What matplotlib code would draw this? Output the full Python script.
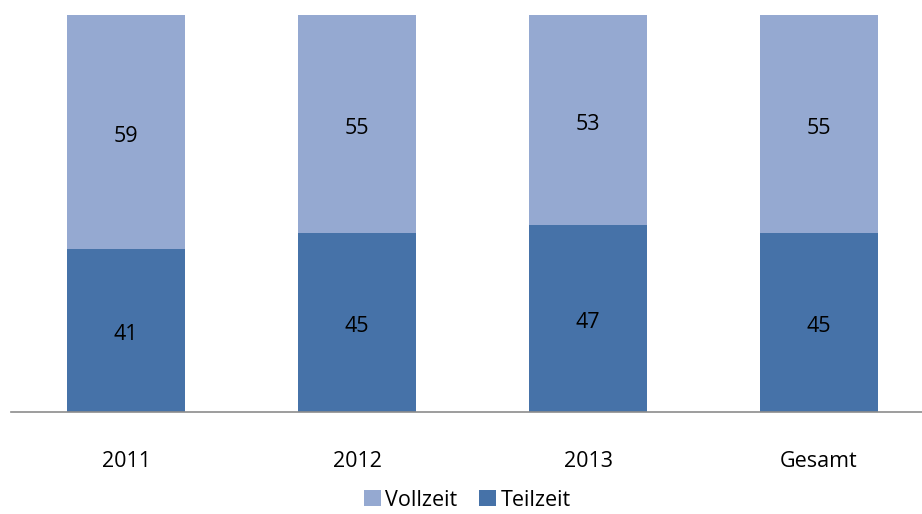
import matplotlib
matplotlib.use("Agg")
import matplotlib.pyplot as plt
import numpy as np

# Anteile in Prozent
categories = ["2011", "2012", "2013", "Gesamt"]
teilzeit = [41, 45, 47, 45]
vollzeit = [59, 55, 53, 55]

plt.rcParams["font.family"] = ["Open Sans", "DejaVu Sans"]

fig = plt.figure(figsize=(9.22, 5.14), dpi=100)
# axes runs a bit past the right edge, like the original
ax = fig.add_axes([10.5 / 922, (514 - 412) / 514, 924 / 922, 397 / 514])

x = np.arange(len(categories))
w = 0.51
c_voll = "#95A9D1"
c_teil = "#4672A8"
fs = 15.5

b1 = ax.bar(x, teilzeit, w, color=c_teil, label="Teilzeit")
b2 = ax.bar(x, vollzeit, w, bottom=teilzeit, color=c_voll, label="Vollzeit")

for i in range(len(categories)):
    ax.text(x[i], teilzeit[i] / 2 - 1, str(teilzeit[i]), ha="center", va="center", fontsize=fs)
    ax.text(x[i], teilzeit[i] + vollzeit[i] / 2 - 1, str(vollzeit[i]), ha="center", va="center", fontsize=fs)

ax.set_xlim(-0.5, 3.5)
ax.set_ylim(0, 100)
ax.set_yticks([])
ax.set_xticks(x)
ax.set_xticklabels(categories, fontsize=fs)
ax.tick_params(axis="x", length=0, pad=28)
for s in ["top", "right", "left"]:
    ax.spines[s].set_visible(False)
ax.spines["bottom"].set_color("#8c8c8c")
ax.spines["bottom"].set_linewidth(1.2)

fig.legend(handles=[b2, b1], labels=["Vollzeit", "Teilzeit"], loc="center",
           bbox_to_anchor=(467 / 922, 1 - 500 / 514), ncol=2, frameon=False,
           fontsize=fs, handlelength=0.8, handleheight=0.8, handletextpad=0.2,
           columnspacing=1.0)

fig.savefig("out.png", dpi=100)
